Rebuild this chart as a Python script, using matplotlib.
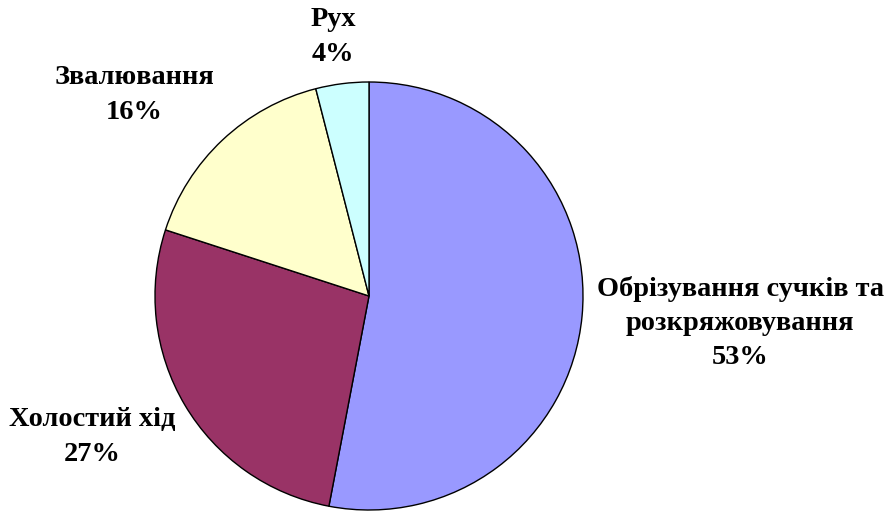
import matplotlib
matplotlib.use("Agg")
import matplotlib.pyplot as plt

categories = ["Обрізування сучків та\nрозкряжовування", "Холостий хід", "Звалювання", "Рух"]
values = [53, 27, 16, 4]
colors = ["#9999FF", "#993366", "#FFFFCC", "#CCFFFF"]
label_pos = [(1.734, -0.126), (-1.294, -0.659), (-1.098, 0.939), (-0.168, 1.210)]

plt.rcParams['font.family'] = ['Liberation Serif', 'DejaVu Serif']

W, H = 893, 520
fig = plt.figure(figsize=(W / 100, H / 100), dpi=100)
cx, cy, r = 369, 296, 214
ax = fig.add_axes([(cx - r) / W, (H - cy - r) / H, 2 * r / W, 2 * r / H])
ax.pie(values, colors=colors, startangle=90, counterclock=False, radius=1,
       wedgeprops=dict(edgecolor="black", linewidth=1.0))
ax.set_xlim(-1, 1)
ax.set_ylim(-1, 1)
ax.set_aspect("equal")
ax.axis("off")

total = sum(values)
for cat, v, (x, y) in zip(categories, values, label_pos):
    ax.text(x, y, f"{cat}\n{round(100 * v / total)}%", ha="center", va="center",
            fontsize=20.4, fontweight="bold", linespacing=1.48, clip_on=False)

fig.savefig("out.png", dpi=100)
